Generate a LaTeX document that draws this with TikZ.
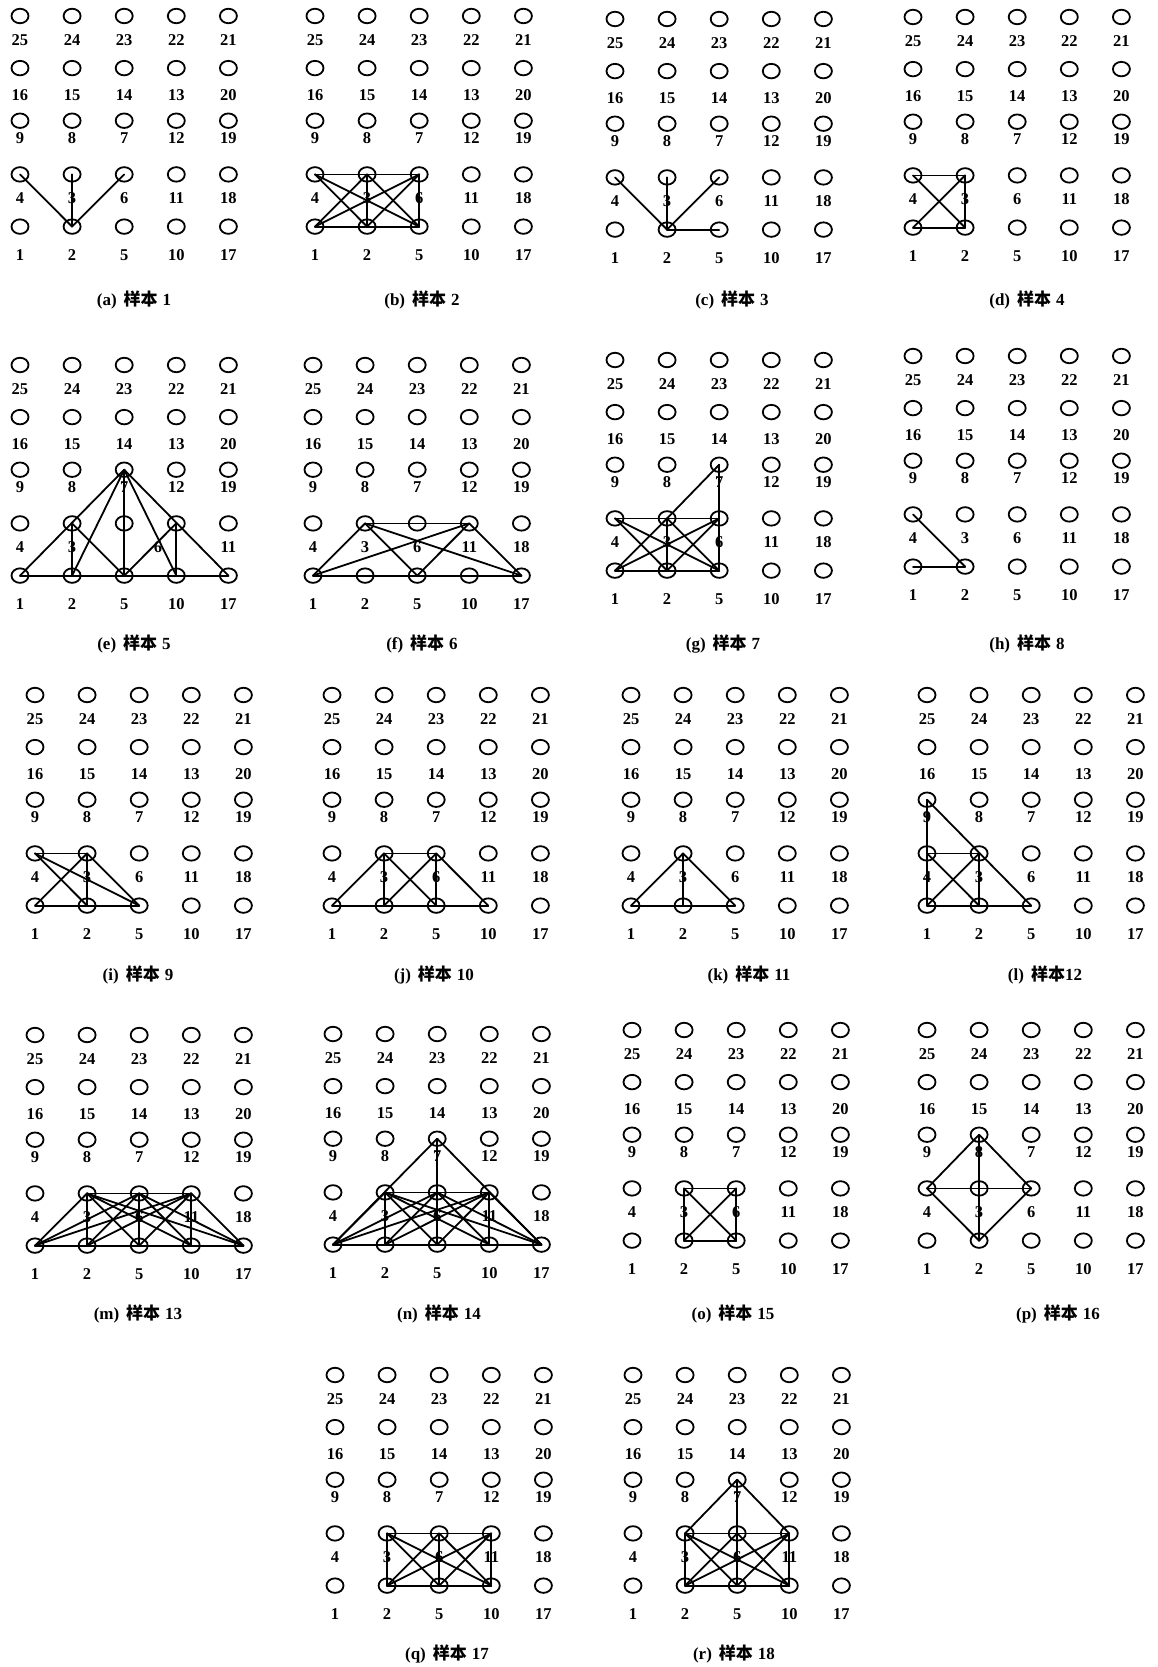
\documentclass[tikz,border=0pt]{standalone}
\usepackage{fontspec}
\setmainfont{Liberation Serif}
\newfontfamily\cjk{Noto Sans CJK SC}
\usetikzlibrary{shapes.geometric}
\tikzset{
  vtx/.style={draw, ellipse, line width=1.8pt, minimum width=17pt, minimum height=14.5pt, inner sep=0pt},
  lbl/.style={font=\fontsize{16.5}{16.5}\selectfont\bfseries, inner sep=0pt},
  link/.style={line width=1.8pt, line cap=round},
  capt/.style={font=\fontsize{17}{17}\selectfont\bfseries, inner sep=0pt}
}
% grid of 25 circles, optional arg = labels of the 4-3-6-11-18 row
\newcommand{\samplegrid}[1][4/0,3/1,6/2,11/3,18/4]{%
  \foreach \yy/\labs in {0/{25,24,23,22,21},52.1/{16,15,14,13,20},104.7/{9,8,7,12,19},158.4/{4,3,6,11,18},210.6/{1,2,5,10,17}}
    \foreach \lab [count=\c from 0] in \labs
      \node[vtx] (v\lab) at (52.1*\c,\yy) {};
  \foreach \ly/\labs in {24.5/{25/0,24/1,23/2,22/3,21/4},78.7/{16/0,15/1,14/2,13/3,20/4},122.3/{9/0,8/1,7/2,12/3,19/4},181.8/{#1},239.3/{1/0,2/1,5/2,10/3,17/4}}
    \foreach \lab/\c in \labs
      \node[lbl] (l\lab) at (52.1*\c,\ly) {\lab};
}
\newcommand{\samplecap}[2]{(#1)\hspace{7pt}{\cjk 样本}\hspace{5pt}#2}

\begin{document}
\begin{tikzpicture}[x=1pt,y=-1pt]
\useasboundingbox (0,0) rectangle (1158,1667);
% (a)
\begin{scope}[shift={(20,16)}]
\samplegrid
\foreach \s/\t in {2/4,2/3,2/6} \draw[link] (v\s.center) -- (v\t.center);
\end{scope}
\node[capt] (capa) at (134,300) {\samplecap{a}{1}};
% (b)
\begin{scope}[shift={(315,16)}]
\samplegrid
\foreach \s/\t in {4/6,1/5,3/2,6/5,4/2,4/5,1/3,1/6,3/5,2/6} \draw[link] (v\s.center) -- (v\t.center);
\end{scope}
\node[capt] (capb) at (422,300) {\samplecap{b}{2}};
% (c)
\begin{scope}[shift={(615,19)}]
\samplegrid
\foreach \s/\t in {2/4,2/3,2/6,2/5} \draw[link] (v\s.center) -- (v\t.center);
\end{scope}
\node[capt] (capc) at (732,300) {\samplecap{c}{3}};
% (d)
\begin{scope}[shift={(913,17)}]
\samplegrid
\foreach \s/\t in {4/3,1/2,3/2,4/2,1/3} \draw[link] (v\s.center) -- (v\t.center);
\end{scope}
\node[capt] (capd) at (1027,300) {\samplecap{d}{4}};
% (e)
\begin{scope}[shift={(20,365)}]
\samplegrid[4/0,3/1,6/2.65,11/4]
\foreach \s/\t in {1/17,1/7,7/17,7/2,7/5,7/10,3/2,3/5,11/5,11/10} \draw[link] (v\s.center) -- (v\t.center);
\end{scope}
\node[capt] (cape) at (134,644) {\samplecap{e}{5}};
% (f)
\begin{scope}[shift={(313,365)}]
\samplegrid
\foreach \s/\t in {3/11,1/17,1/3,1/11,3/5,3/17,11/5,11/17} \draw[link] (v\s.center) -- (v\t.center);
\end{scope}
\node[capt] (capf) at (422,644) {\samplecap{f}{6}};
% (g)
\begin{scope}[shift={(615,360)}]
\samplegrid
\foreach \s/\t in {4/6,1/5,3/2,7/5,3/7,4/2,4/5,1/3,1/6,3/5,2/6} \draw[link] (v\s.center) -- (v\t.center);
\end{scope}
\node[capt] (capg) at (723,644) {\samplecap{g}{7}};
% (h)
\begin{scope}[shift={(913,356)}]
\samplegrid
\foreach \s/\t in {4/2,1/2} \draw[link] (v\s.center) -- (v\t.center);
\end{scope}
\node[capt] (caph) at (1027,644) {\samplecap{h}{8}};
% (i)
\begin{scope}[shift={(35,695)}]
\samplegrid
\foreach \s/\t in {4/3,1/5,3/2,4/2,4/5,1/3,3/5} \draw[link] (v\s.center) -- (v\t.center);
\end{scope}
\node[capt] (capi) at (138,975) {\samplecap{i}{9}};
% (j)
\begin{scope}[shift={(332,695)}]
\samplegrid
\foreach \s/\t in {3/6,1/10,1/3,3/2,3/5,6/2,6/5,6/10} \draw[link] (v\s.center) -- (v\t.center);
\end{scope}
\node[capt] (capj) at (434,975) {\samplecap{j}{10}};
% (k)
\begin{scope}[shift={(631,695)}]
\samplegrid
\foreach \s/\t in {1/3,3/2,3/5,1/5} \draw[link] (v\s.center) -- (v\t.center);
\end{scope}
\node[capt] (capk) at (749,975) {\samplecap{k}{11}};
% (l)
\begin{scope}[shift={(927,695)}]
\samplegrid
\foreach \s/\t in {9/1,9/5,4/3,4/2,1/3,3/2,1/2,2/5} \draw[link] (v\s.center) -- (v\t.center);
\end{scope}
\node[capt] (capl) at (1045,975) {(l)\hspace{7pt}{\cjk 样本}12};
% (m)
\begin{scope}[shift={(35,1035)}]
\samplegrid
\foreach \s/\t in {3/11,1/17} \draw[link] (v\s.center) -- (v\t.center);
\foreach \s in {1,2,5,10,17} \foreach \t in {3,6,11} \draw[link] (v\s.center) -- (v\t.center);
\end{scope}
\node[capt] (capm) at (138,1314) {\samplecap{m}{13}};
% (n)
\begin{scope}[shift={(333,1034)}]
\samplegrid
\foreach \s/\t in {3/11,1/17,7/1,7/17,7/5} \draw[link] (v\s.center) -- (v\t.center);
\foreach \s in {1,2,5,10,17} \foreach \t in {3,6,11} \draw[link] (v\s.center) -- (v\t.center);
\end{scope}
\node[capt] (capn) at (439,1314) {\samplecap{n}{14}};
% (o)
\begin{scope}[shift={(632,1030)}]
\samplegrid
\foreach \s/\t in {3/6,2/5,3/2,6/5,3/5,2/6} \draw[link] (v\s.center) -- (v\t.center);
\end{scope}
\node[capt] (capo) at (733,1314) {\samplecap{o}{15}};
% (p)
\begin{scope}[shift={(927,1030)}]
\samplegrid
\foreach \s/\t in {8/4,8/6,8/2,4/6,2/4,2/6} \draw[link] (v\s.center) -- (v\t.center);
\end{scope}
\node[capt] (capp) at (1058,1314) {\samplecap{p}{16}};
% (q)
\begin{scope}[shift={(335,1375)}]
\samplegrid
\foreach \s/\t in {3/11,2/10,3/2,6/5,11/10,3/5,3/10,2/6,2/11,6/10,5/11} \draw[link] (v\s.center) -- (v\t.center);
\end{scope}
\node[capt] (capq) at (447,1654) {\samplecap{q}{17}};
% (r)
\begin{scope}[shift={(633,1375)}]
\samplegrid
\foreach \s/\t in {3/11,2/10,3/2,7/5,11/10,3/5,3/10,2/6,2/11,6/10,5/11,7/3,7/11} \draw[link] (v\s.center) -- (v\t.center);
\end{scope}
\node[capt] (capr) at (734,1654) {\samplecap{r}{18}};
\end{tikzpicture}
\end{document}
